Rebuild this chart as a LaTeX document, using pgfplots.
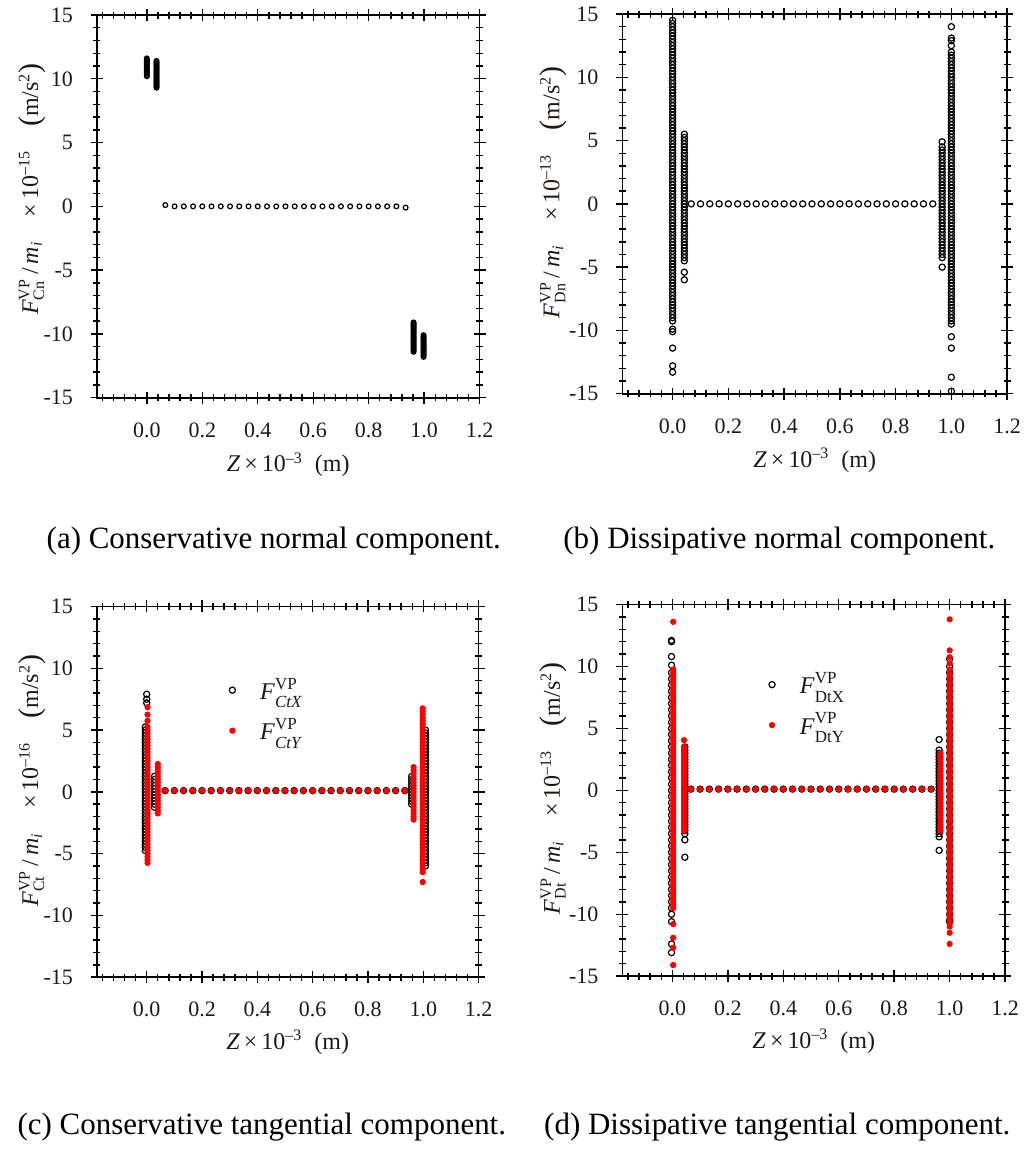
\documentclass[border=0pt]{standalone}
\usepackage{pgfplots}
\pgfplotsset{compat=1.18}
\usepackage{amsmath}
\usepackage{fontspec}
\setmainfont{Liberation Serif}
\definecolor{lbl}{rgb}{0.12,0.1,0.08}
\newcommand{\bp}[1]{{\fontsize{15}{15}\selectfont\raisebox{-0.5pt}{#1}}}
\newcommand{\leg}[1]{\textit{F}\rlap{\raisebox{5.2pt}{\fontsize{8.5}{9}\selectfont VP}}\raisebox{-4.2pt}{\fontsize{8.5}{9}\selectfont #1}}
\pgfplotsset{
  panel/.style={
    scale only axis,
    anchor=south west,
    xmin=-0.18, xmax=1.2, ymin=-15, ymax=15,
    xtick={0,0.2,0.4,0.6,0.8,1.0,1.2},
    minor xtick={-0.16,-0.12,-0.08,-0.04,0.04,0.08,0.12,0.16,0.24,0.28,0.32,0.36,0.44,0.48,0.52,0.56,0.64,0.68,0.72,0.76,0.84,0.88,0.92,0.96,1.04,1.08,1.12,1.16},
    ytick={-15,-10,-5,0,5,10,15},
    minor y tick num=4,
    tick align=center,
    major tick length=6pt,
    minor tick length=3.5pt,
    axis line style={line width=0.9pt},
    every tick/.style={black, line width=0.7pt},
    /pgf/number format/assume math mode=true,
    tick label style={font=\fontsize{11}{13}\selectfont, text=lbl},
    xticklabel style={/pgf/number format/.cd, fixed, fixed zerofill, precision=1, /tikz/.cd, yshift=-6pt},
    yticklabel style={xshift=-5.5pt},
    label style={font=\fontsize{12}{14}\selectfont, text=lbl},
    ylabel style={inner sep=0pt},
    xlabel={\textit{Z}\,×\,10$^{\text{–3}}$\ \ (m)},
    xlabel style={at={(axis description cs:0.5,-0.175)}, anchor=center},
    legend image code/.code={\path[draw=none] (0cm,0cm) -- (0.72cm,0cm); \draw[##1] plot coordinates {(0.3cm,0cm)};},
  },
  cmark/.style={only marks, mark=o, mark size=1.55pt, mark options={draw=black, line width=0.6pt}},
  rmark/.style={only marks, mark=*, mark size=1.35pt, mark options={draw=red, fill=red}},
}
\begin{document}
\begin{tikzpicture}
\path (0pt,0pt) rectangle (513.5pt,-576pt);

% (a)
\begin{axis}[panel, at={(48.5pt,-198.5pt)}, width=191.5pt, height=191.5pt,
  ylabel={\textit{F}$^{\text{VP}}_{\text{Cn}}$\,/\,\textit{m}$_{\textit{i}}$\quad×\,10$^{\text{–15}}$\quad\bp{(}m/s$^{\text{2}}$\bp{)}},
  ylabel style={at={(axis description cs:-0.17,0.545)}, anchor=center}]
\addplot[cmark, mark size=1.2pt] coordinates {
(0,10.2)(0,10.3)(0,10.4)(0,10.5)(0,10.6)(0,10.7)(0,10.8)(0,10.9)(0,11.0)(0,11.1)(0,11.2)(0,11.3)(0,11.4)(0,11.5)(0,11.6)
(0.035,9.3)(0.035,9.4)(0.035,9.5)(0.035,9.6)(0.035,9.7)(0.035,9.8)(0.035,9.9)(0.035,10.0)(0.035,10.1)(0.035,10.2)(0.035,10.3)(0.035,10.4)(0.035,10.5)(0.035,10.6)(0.035,10.7)(0.035,10.8)(0.035,10.9)(0.035,11.0)(0.035,11.1)(0.035,11.2)(0.035,11.3)(0.035,11.4)
(0.0667,0.1)(0.1,0)(0.1333,0)(0.1667,0)(0.2,0)(0.2333,0)(0.2667,0)(0.3,0)(0.3333,0)(0.3667,0)(0.4,0)(0.4333,0)(0.4667,0)(0.5,0)(0.5333,0)(0.5667,0)(0.6,0)(0.6333,0)(0.6667,0)(0.7,0)(0.7333,0)(0.7667,0)(0.8,0)(0.8333,0)(0.8667,0)(0.9,0)(0.9333,-0.1)
(0.962,-11.4)(0.962,-11.3)(0.962,-11.2)(0.962,-11.1)(0.962,-11.0)(0.962,-10.9)(0.962,-10.8)(0.962,-10.7)(0.962,-10.6)(0.962,-10.5)(0.962,-10.4)(0.962,-10.3)(0.962,-10.2)(0.962,-10.1)(0.962,-10.0)(0.962,-9.9)(0.962,-9.8)(0.962,-9.7)(0.962,-9.6)(0.962,-9.5)(0.962,-9.4)(0.962,-9.3)(0.962,-9.2)(0.962,-9.1)
(0.998,-11.8)(0.998,-11.7)(0.998,-11.6)(0.998,-11.5)(0.998,-11.4)(0.998,-11.3)(0.998,-11.2)(0.998,-11.1)(0.998,-11.0)(0.998,-10.9)(0.998,-10.8)(0.998,-10.7)(0.998,-10.6)(0.998,-10.5)(0.998,-10.4)(0.998,-10.3)(0.998,-10.2)(0.998,-10.1)
};
\end{axis}

% (b)
\begin{axis}[panel, at={(311.5pt,-196.5pt)}, width=192.5pt, height=190pt,
  ylabel={\textit{F}$^{\text{VP}}_{\text{Dn}}$\,/\,\textit{m}$_{\textit{i}}$\quad×\,10$^{\text{–13}}$\quad\bp{(}m/s$^{\text{2}}$\bp{)}},
  ylabel style={at={(axis description cs:-0.18,0.53)}, anchor=center}]
\addplot[cmark] coordinates {
(0,-13.3)(0,-12.8)(0,-11.4)(0,-10.1)(0,-9.9)
(0,-9.25)(0,-9)(0,-8.75)(0,-8.5)(0,-8.25)(0,-8)(0,-7.75)(0,-7.5)(0,-7.25)(0,-7)(0,-6.75)(0,-6.5)(0,-6.25)(0,-6)(0,-5.75)(0,-5.5)(0,-5.25)(0,-5)(0,-4.75)(0,-4.5)(0,-4.25)(0,-4)(0,-3.75)(0,-3.5)(0,-3.25)(0,-3)(0,-2.75)(0,-2.5)(0,-2.25)(0,-2)(0,-1.75)(0,-1.5)(0,-1.25)(0,-1)(0,-0.75)(0,-0.5)(0,-0.25)(0,0)(0,0.25)(0,0.5)(0,0.75)(0,1)(0,1.25)(0,1.5)(0,1.75)(0,2)(0,2.25)(0,2.5)(0,2.75)(0,3)(0,3.25)(0,3.5)(0,3.75)(0,4)(0,4.25)(0,4.5)(0,4.75)(0,5)(0,5.25)(0,5.5)(0,5.75)(0,6)(0,6.25)(0,6.5)(0,6.75)(0,7)(0,7.25)(0,7.5)(0,7.75)(0,8)(0,8.25)(0,8.5)(0,8.75)(0,9)(0,9.25)(0,9.5)(0,9.75)(0,10)(0,10.25)(0,10.5)(0,10.75)(0,11)(0,11.25)(0,11.5)(0,11.75)(0,12)(0,12.25)(0,12.5)(0,12.75)(0,13)(0,13.25)(0,13.5)(0,13.75)(0,14)(0,14.25)(0,14.5)
(0.042,-6.0)(0.042,-5.4)(0.042,-4.5)(0.042,-4.25)(0.042,-4)(0.042,-3.75)(0.042,-3.5)(0.042,-3.25)(0.042,-3)(0.042,-2.75)(0.042,-2.5)(0.042,-2.25)(0.042,-2)(0.042,-1.75)(0.042,-1.5)(0.042,-1.25)(0.042,-1)(0.042,-0.75)(0.042,-0.5)(0.042,-0.25)(0.042,0)(0.042,0.25)(0.042,0.5)(0.042,0.75)(0.042,1)(0.042,1.25)(0.042,1.5)(0.042,1.75)(0.042,2)(0.042,2.25)(0.042,2.5)(0.042,2.75)(0.042,3)(0.042,3.25)(0.042,3.5)(0.042,3.75)(0.042,4)(0.042,4.25)(0.042,4.5)(0.042,4.75)(0.042,5)(0.042,5.25)(0.042,5.5)
(0.0667,0)(0.1,0)(0.1333,0)(0.1667,0)(0.2,0)(0.2333,0)(0.2667,0)(0.3,0)(0.3333,0)(0.3667,0)(0.4,0)(0.4333,0)(0.4667,0)(0.5,0)(0.5333,0)(0.5667,0)(0.6,0)(0.6333,0)(0.6667,0)(0.7,0)(0.7333,0)(0.7667,0)(0.8,0)(0.8333,0)(0.8667,0)(0.9,0)(0.9333,0)
(0.967,-5.0)(0.967,-4.25)(0.967,-4)(0.967,-3.75)(0.967,-3.5)(0.967,-3.25)(0.967,-3)(0.967,-2.75)(0.967,-2.5)(0.967,-2.25)(0.967,-2)(0.967,-1.75)(0.967,-1.5)(0.967,-1.25)(0.967,-1)(0.967,-0.75)(0.967,-0.5)(0.967,-0.25)(0.967,0)(0.967,0.25)(0.967,0.5)(0.967,0.75)(0.967,1)(0.967,1.25)(0.967,1.5)(0.967,1.75)(0.967,2)(0.967,2.25)(0.967,2.5)(0.967,2.75)(0.967,3)(0.967,3.25)(0.967,3.5)(0.967,3.75)(0.967,4)(0.967,4.25)(0.967,4.5)(0.967,4.9)
(1,-14.8)(1,-13.7)(1,-11.4)(1,-10.5)(1,-9.5)(1,-9.25)(1,-9)(1,-8.75)(1,-8.5)(1,-8.25)(1,-8)(1,-7.75)(1,-7.5)(1,-7.25)(1,-7)(1,-6.75)(1,-6.5)(1,-6.25)(1,-6)(1,-5.75)(1,-5.5)(1,-5.25)(1,-5)(1,-4.75)(1,-4.5)(1,-4.25)(1,-4)(1,-3.75)(1,-3.5)(1,-3.25)(1,-3)(1,-2.75)(1,-2.5)(1,-2.25)(1,-2)(1,-1.75)(1,-1.5)(1,-1.25)(1,-1)(1,-0.75)(1,-0.5)(1,-0.25)(1,0)(1,0.25)(1,0.5)(1,0.75)(1,1)(1,1.25)(1,1.5)(1,1.75)(1,2)(1,2.25)(1,2.5)(1,2.75)(1,3)(1,3.25)(1,3.5)(1,3.75)(1,4)(1,4.25)(1,4.5)(1,4.75)(1,5)(1,5.25)(1,5.5)(1,5.75)(1,6)(1,6.25)(1,6.5)(1,6.75)(1,7)(1,7.25)(1,7.5)(1,7.75)(1,8)(1,8.25)(1,8.5)(1,8.75)(1,9)(1,9.25)(1,9.5)(1,9.75)(1,10)(1,10.25)(1,10.5)(1,10.75)(1,11)(1,11.25)(1,11.5)(1,11.75)(1,12)(1,12.5)(1,12.9)(1,13.1)(1,14.0)
};
\end{axis}

% (c)
\begin{axis}[panel, at={(48.5pt,-488.5pt)}, width=191pt, height=185.5pt,
  ylabel={\textit{F}$^{\text{VP}}_{\text{Ct}}$\,/\,\textit{m}$_{\textit{i}}$\quad×\,10$^{\text{–16}}$\quad\bp{(}m/s$^{\text{2}}$\bp{)}},
  ylabel style={at={(axis description cs:-0.17,0.53)}, anchor=center},
  legend style={draw=none, fill=none, at={(axis cs:0.225,9.9)}, anchor=north west, row sep=4pt, font=\fontsize{12}{14}\selectfont, text=lbl},
  legend cell align=left]
\addplot[cmark] coordinates {
(-0.005,-4.75)(-0.005,-4.5)(-0.005,-4.25)(-0.005,-4)(-0.005,-3.75)(-0.005,-3.5)(-0.005,-3.25)(-0.005,-3)(-0.005,-2.75)(-0.005,-2.5)(-0.005,-2.25)(-0.005,-2)(-0.005,-1.75)(-0.005,-1.5)(-0.005,-1.25)(-0.005,-1)(-0.005,-0.75)(-0.005,-0.5)(-0.005,-0.25)(-0.005,0)(-0.005,0.25)(-0.005,0.5)(-0.005,0.75)(-0.005,1)(-0.005,1.25)(-0.005,1.5)(-0.005,1.75)(-0.005,2)(-0.005,2.25)(-0.005,2.5)(-0.005,2.75)(-0.005,3)(-0.005,3.25)(-0.005,3.5)(-0.005,3.75)(-0.005,4)(-0.005,4.25)(-0.005,4.5)(-0.005,4.75)(-0.005,5)(-0.005,5.25)(0,7.2)(0,7.5)(0,7.9)
(0.028,-1.25)(0.028,-1)(0.028,-0.75)(0.028,-0.5)(0.028,-0.25)(0.028,0)(0.028,0.25)(0.028,0.5)(0.028,0.75)(0.028,1)(0.028,1.25)
(0.0667,0.1)(0.1,0.1)(0.1333,0.1)(0.1667,0.1)(0.2,0.1)(0.2333,0.1)(0.2667,0.1)(0.3,0.1)(0.3333,0.1)(0.3667,0.1)(0.4,0.1)(0.4333,0.1)(0.4667,0.1)(0.5,0.1)(0.5333,0.1)(0.5667,0.1)(0.6,0.1)(0.6333,0.1)(0.6667,0.1)(0.7,0.1)(0.7333,0.1)(0.7667,0.1)(0.8,0.1)(0.8333,0.1)(0.8667,0.1)(0.9,0.1)(0.9333,0.1)
(0.958,-1)(0.958,-0.75)(0.958,-0.5)(0.958,-0.25)(0.958,0)(0.958,0.25)(0.958,0.5)(0.958,0.75)(0.958,1)(0.958,1.25)
(1.008,-6)(1.008,-5.75)(1.008,-5.5)(1.008,-5.25)(1.008,-5)(1.008,-4.75)(1.008,-4.5)(1.008,-4.25)(1.008,-4)(1.008,-3.75)(1.008,-3.5)(1.008,-3.25)(1.008,-3)(1.008,-2.75)(1.008,-2.5)(1.008,-2.25)(1.008,-2)(1.008,-1.75)(1.008,-1.5)(1.008,-1.25)(1.008,-1)(1.008,-0.75)(1.008,-0.5)(1.008,-0.25)(1.008,0)(1.008,0.25)(1.008,0.5)(1.008,0.75)(1.008,1)(1.008,1.25)(1.008,1.5)(1.008,1.75)(1.008,2)(1.008,2.25)(1.008,2.5)(1.008,2.75)(1.008,3)(1.008,3.25)(1.008,3.5)(1.008,3.75)(1.008,4)(1.008,4.25)(1.008,4.5)(1.008,4.75)(1.008,5)
};
\addlegendentry{\leg{\textit{CtX}}}
\addplot[rmark] coordinates {
(0.003,-5.75)(0.003,-5.5)(0.003,-5.25)(0.003,-5)(0.003,-4.75)(0.003,-4.5)(0.003,-4.25)(0.003,-4)(0.003,-3.75)(0.003,-3.5)(0.003,-3.25)(0.003,-3)(0.003,-2.75)(0.003,-2.5)(0.003,-2.25)(0.003,-2)(0.003,-1.75)(0.003,-1.5)(0.003,-1.25)(0.003,-1)(0.003,-0.75)(0.003,-0.5)(0.003,-0.25)(0.003,0)(0.003,0.25)(0.003,0.5)(0.003,0.75)(0.003,1)(0.003,1.25)(0.003,1.5)(0.003,1.75)(0.003,2)(0.003,2.25)(0.003,2.5)(0.003,2.75)(0.003,3)(0.003,3.25)(0.003,3.5)(0.003,3.75)(0.003,4)(0.003,4.25)(0.003,4.5)(0.003,4.75)(0.003,5)(0.003,5.25)(0.003,5.75)(0.003,6.25)(0.003,6.85)
(0.04,-1.75)(0.04,-1.5)(0.04,-1.25)(0.04,-1)(0.04,-0.75)(0.04,-0.5)(0.04,-0.25)(0.04,0)(0.04,0.25)(0.04,0.5)(0.04,0.75)(0.04,1)(0.04,1.25)(0.04,1.5)(0.04,1.75)(0.04,2)(0.04,2.25)
(0.0667,0.1)(0.1,0.1)(0.1333,0.1)(0.1667,0.1)(0.2,0.1)(0.2333,0.1)(0.2667,0.1)(0.3,0.1)(0.3333,0.1)(0.3667,0.1)(0.4,0.1)(0.4333,0.1)(0.4667,0.1)(0.5,0.1)(0.5333,0.1)(0.5667,0.1)(0.6,0.1)(0.6333,0.1)(0.6667,0.1)(0.7,0.1)(0.7333,0.1)(0.7667,0.1)(0.8,0.1)(0.8333,0.1)(0.8667,0.1)(0.9,0.1)(0.9333,0.1)
(0.965,-2.25)(0.965,-2)(0.965,-1.75)(0.965,-1.5)(0.965,-1.25)(0.965,-1)(0.965,-0.75)(0.965,-0.5)(0.965,-0.25)(0.965,0)(0.965,0.25)(0.965,0.5)(0.965,0.75)(0.965,1)(0.965,1.25)(0.965,1.5)(0.965,1.75)(0.965,2)
(0.998,-7.3)(0.998,-6.5)(0.998,-6.25)(0.998,-6)(0.998,-5.75)(0.998,-5.5)(0.998,-5.25)(0.998,-5)(0.998,-4.75)(0.998,-4.5)(0.998,-4.25)(0.998,-4)(0.998,-3.75)(0.998,-3.5)(0.998,-3.25)(0.998,-3)(0.998,-2.75)(0.998,-2.5)(0.998,-2.25)(0.998,-2)(0.998,-1.75)(0.998,-1.5)(0.998,-1.25)(0.998,-1)(0.998,-0.75)(0.998,-0.5)(0.998,-0.25)(0.998,0)(0.998,0.25)(0.998,0.5)(0.998,0.75)(0.998,1)(0.998,1.25)(0.998,1.5)(0.998,1.75)(0.998,2)(0.998,2.25)(0.998,2.5)(0.998,2.75)(0.998,3)(0.998,3.25)(0.998,3.5)(0.998,3.75)(0.998,4)(0.998,4.25)(0.998,4.5)(0.998,4.75)(0.998,5)(0.998,5.25)(0.998,5.5)(0.998,5.75)(0.998,6)(0.998,6.25)(0.998,6.5)(0.998,6.75)
};
\addlegendentry{\leg{\textit{CtY}}}
\end{axis}

% (d)
\begin{axis}[panel, at={(311.5pt,-488pt)}, width=191.5pt, height=186pt,
  ylabel={\textit{F}$^{\text{VP}}_{\text{Dt}}$\,/\,\textit{m}$_{\textit{i}}$\quad×\,10$^{\text{–13}}$\quad\bp{(}m/s$^{\text{2}}$\bp{)}},
  ylabel style={at={(axis description cs:-0.18,0.505)}, anchor=center},
  legend style={draw=none, fill=none, at={(axis cs:0.275,10.2)}, anchor=north west, row sep=4pt, font=\fontsize{12}{14}\selectfont, text=lbl},
  legend cell align=left]
\addplot[cmark] coordinates {
(-0.003,-13.1)(-0.003,-12.4)(-0.003,-10.6)(-0.003,-10)(-0.003,-9.5)(-0.003,-9)(-0.003,-8.5)(-0.003,-8)(-0.003,-7.5)(-0.003,-7)(-0.003,-6.5)(-0.003,-6)(-0.003,-5.5)(-0.003,-5)(-0.003,-4.5)(-0.003,-4)(-0.003,-3.5)(-0.003,-3)(-0.003,-2.5)(-0.003,-2)(-0.003,-1.5)(-0.003,-1)(-0.003,-0.5)(-0.003,0)(-0.003,0.5)(-0.003,1)(-0.003,1.5)(-0.003,2)(-0.003,2.5)(-0.003,3)(-0.003,3.5)(-0.003,4)(-0.003,4.5)(-0.003,5)(-0.003,5.5)(-0.003,6)(-0.003,6.5)(-0.003,7)(-0.003,7.5)(-0.003,8)(-0.003,8.5)(-0.003,9)(-0.003,9.5)(-0.003,10.1)(-0.003,10.8)(-0.003,12.0)(-0.003,12.1)
(0.045,-5.4)(0.045,-4.0)(0.045,-3.5)(0.045,-3.25)(0.045,-3)(0.045,-2.75)(0.045,-2.5)(0.045,-2.25)(0.045,-2)(0.045,-1.75)(0.045,-1.5)(0.045,-1.25)(0.045,-1)(0.045,-0.75)(0.045,-0.5)(0.045,-0.25)(0.045,0)(0.045,0.25)(0.045,0.5)(0.045,0.75)(0.045,1)(0.045,1.25)(0.045,1.5)(0.045,1.75)(0.045,2)(0.045,2.25)(0.045,2.5)(0.045,2.75)(0.045,3)(0.045,3.25)(0.045,3.5)
(0.0667,0.1)(0.1,0.1)(0.1333,0.1)(0.1667,0.1)(0.2,0.1)(0.2333,0.1)(0.2667,0.1)(0.3,0.1)(0.3333,0.1)(0.3667,0.1)(0.4,0.1)(0.4333,0.1)(0.4667,0.1)(0.5,0.1)(0.5333,0.1)(0.5667,0.1)(0.6,0.1)(0.6333,0.1)(0.6667,0.1)(0.7,0.1)(0.7333,0.1)(0.7667,0.1)(0.8,0.1)(0.8333,0.1)(0.8667,0.1)(0.9,0.1)(0.9333,0.1)
(0.962,-4.85)(0.962,-3.75)(0.962,-3.5)(0.962,-3.25)(0.962,-3)(0.962,-2.75)(0.962,-2.5)(0.962,-2.25)(0.962,-2)(0.962,-1.75)(0.962,-1.5)(0.962,-1.25)(0.962,-1)(0.962,-0.75)(0.962,-0.5)(0.962,-0.25)(0.962,0)(0.962,0.25)(0.962,0.5)(0.962,0.75)(0.962,1)(0.962,1.25)(0.962,1.5)(0.962,1.75)(0.962,2)(0.962,2.25)(0.962,2.5)(0.962,2.75)(0.962,3)(0.962,3.25)(0.962,4.1)
(1,-10.6)(1,-10.5)(1,-10)(1,-9.5)(1,-9)(1,-8.5)(1,-8)(1,-7.5)(1,-7)(1,-6.5)(1,-6)(1,-5.5)(1,-5)(1,-4.5)(1,-4)(1,-3.5)(1,-3)(1,-2.5)(1,-2)(1,-1.5)(1,-1)(1,-0.5)(1,0)(1,0.5)(1,1)(1,1.5)(1,2)(1,2.5)(1,3)(1,3.5)(1,4)(1,4.5)(1,5)(1,5.5)(1,6)(1,6.5)(1,7)(1,7.5)(1,8)(1,8.5)(1,9)(1,9.5)(1,10)(1,10.6)
};
\addlegendentry{\leg{DtX}}
\addplot[rmark] coordinates {
(0.003,-14.1)(0.003,-12.7)(0.003,-11.9)(0.003,-10.8)(0.003,-9.5)(0.003,-9.25)(0.003,-9)(0.003,-8.75)(0.003,-8.5)(0.003,-8.25)(0.003,-8)(0.003,-7.75)(0.003,-7.5)(0.003,-7.25)(0.003,-7)(0.003,-6.75)(0.003,-6.5)(0.003,-6.25)(0.003,-6)(0.003,-5.75)(0.003,-5.5)(0.003,-5.25)(0.003,-5)(0.003,-4.75)(0.003,-4.5)(0.003,-4.25)(0.003,-4)(0.003,-3.75)(0.003,-3.5)(0.003,-3.25)(0.003,-3)(0.003,-2.75)(0.003,-2.5)(0.003,-2.25)(0.003,-2)(0.003,-1.75)(0.003,-1.5)(0.003,-1.25)(0.003,-1)(0.003,-0.75)(0.003,-0.5)(0.003,-0.25)(0.003,0)(0.003,0.25)(0.003,0.5)(0.003,0.75)(0.003,1)(0.003,1.25)(0.003,1.5)(0.003,1.75)(0.003,2)(0.003,2.25)(0.003,2.5)(0.003,2.75)(0.003,3)(0.003,3.25)(0.003,3.5)(0.003,3.75)(0.003,4)(0.003,4.25)(0.003,4.5)(0.003,4.75)(0.003,5)(0.003,5.25)(0.003,5.5)(0.003,5.75)(0.003,6)(0.003,6.25)(0.003,6.5)(0.003,6.75)(0.003,7)(0.003,7.25)(0.003,7.5)(0.003,7.75)(0.003,8)(0.003,8.25)(0.003,8.5)(0.003,8.75)(0.003,9)(0.003,9.25)(0.003,9.5)(0.003,9.75)(0.003,13.6)
(0.042,-3.25)(0.042,-3)(0.042,-2.75)(0.042,-2.5)(0.042,-2.25)(0.042,-2)(0.042,-1.75)(0.042,-1.5)(0.042,-1.25)(0.042,-1)(0.042,-0.75)(0.042,-0.5)(0.042,-0.25)(0.042,0)(0.042,0.25)(0.042,0.5)(0.042,0.75)(0.042,1)(0.042,1.25)(0.042,1.5)(0.042,1.75)(0.042,2)(0.042,2.25)(0.042,2.5)(0.042,2.75)(0.042,3)(0.042,3.25)(0.042,3.5)(0.042,4.05)
(0.0667,0.1)(0.1,0.1)(0.1333,0.1)(0.1667,0.1)(0.2,0.1)(0.2333,0.1)(0.2667,0.1)(0.3,0.1)(0.3333,0.1)(0.3667,0.1)(0.4,0.1)(0.4333,0.1)(0.4667,0.1)(0.5,0.1)(0.5333,0.1)(0.5667,0.1)(0.6,0.1)(0.6333,0.1)(0.6667,0.1)(0.7,0.1)(0.7333,0.1)(0.7667,0.1)(0.8,0.1)(0.8333,0.1)(0.8667,0.1)(0.9,0.1)(0.9333,0.1)
(0.967,-3.25)(0.967,-3)(0.967,-2.75)(0.967,-2.5)(0.967,-2.25)(0.967,-2)(0.967,-1.75)(0.967,-1.5)(0.967,-1.25)(0.967,-1)(0.967,-0.75)(0.967,-0.5)(0.967,-0.25)(0.967,0)(0.967,0.25)(0.967,0.5)(0.967,0.75)(0.967,1)(0.967,1.25)(0.967,1.5)(0.967,1.75)(0.967,2)(0.967,2.25)(0.967,2.5)(0.967,2.75)(0.967,3)
(1,-12.4)(1,-11.5)(1,-11)(1,-10.75)(1,-10.5)(1,-10.25)(1,-10)(1,-9.75)(1,-9.5)(1,-9.25)(1,-9)(1,-8.75)(1,-8.5)(1,-8.25)(1,-8)(1,-7.75)(1,-7.5)(1,-7.25)(1,-7)(1,-6.75)(1,-6.5)(1,-6.25)(1,-6)(1,-5.75)(1,-5.5)(1,-5.25)(1,-5)(1,-4.75)(1,-4.5)(1,-4.25)(1,-4)(1,-3.75)(1,-3.5)(1,-3.25)(1,-3)(1,-2.75)(1,-2.5)(1,-2.25)(1,-2)(1,-1.75)(1,-1.5)(1,-1.25)(1,-1)(1,-0.75)(1,-0.5)(1,-0.25)(1,0)(1,0.25)(1,0.5)(1,0.75)(1,1)(1,1.25)(1,1.5)(1,1.75)(1,2)(1,2.25)(1,2.5)(1,2.75)(1,3)(1,3.25)(1,3.5)(1,3.75)(1,4)(1,4.25)(1,4.5)(1,4.75)(1,5)(1,5.25)(1,5.5)(1,5.75)(1,6)(1,6.25)(1,6.5)(1,6.75)(1,7)(1,7.25)(1,7.5)(1,7.75)(1,8)(1,8.25)(1,8.5)(1,8.75)(1,9)(1,9.25)(1,9.5)(1,9.75)(1,10.25)(1,10.75)(1,11.3)(1,13.8)
};
\addlegendentry{\leg{DtY}}
\end{axis}

\node[font=\fontsize{15.5}{18}\selectfont] at (137pt,-270pt) {(a) Conservative normal component.};
\node[font=\fontsize{15.5}{18}\selectfont] at (390pt,-270pt) {(b) Dissipative normal component.};
\node[font=\fontsize{15.5}{18}\selectfont] at (131pt,-563.5pt) {(c) Conservative tangential component.};
\node[font=\fontsize{15.5}{18}\selectfont] at (389pt,-563.5pt) {(d) Dissipative tangential component.};
\end{tikzpicture}
\end{document}
